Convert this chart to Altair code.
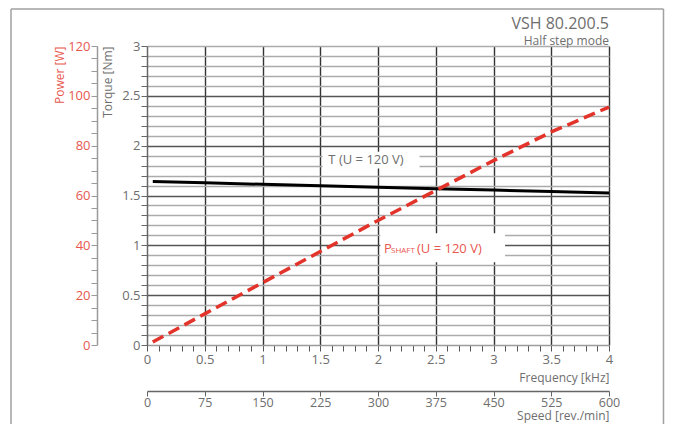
import altair as alt
import pandas as pd

# ---- data ----
freq_khz = [0.05, 0.5, 1.0, 1.5, 2.0, 2.5, 3.0, 3.5, 4.0]
torque_nm = [1.64, 1.627, 1.612, 1.598, 1.583, 1.568, 1.554, 1.540, 1.525]
power_w = [1.2, 12.5, 25.0, 37.5, 50.0, 62.0, 74.0, 85.5, 95.5]
speed_range = [0, 600]

freq_ticks = [round(i * 0.1, 1) for i in range(41)]
torque_ticks = [round(i * 0.1, 1) for i in range(31)]
power_ticks = list(range(0, 121, 5))
speed_ticks = list(range(0, 601, 75))

title_text = "VSH 80.200.5"
subtitle_text = "Half step mode"

GRAY_TXT = "#6e6e6e"
AXIS_GRAY = "#9a9a9a"
RED = "#e2342b"
RED_TXT = "#e8574f"
FONT = "Open Sans"

W, H = 462, 299

df = pd.DataFrame({"f": freq_khz, "T": torque_nm, "P": power_w})

half = "abs(datum.value*2 - round(datum.value*2)) < 0.001"
lab = f"({half}) ? format(datum.value, '.1~f') : ''"

xs = alt.Scale(domain=[0, 4], nice=False, zero=False)
ys = alt.Scale(domain=[0, 3], nice=False)
ps = alt.Scale(domain=[0, 120], nice=False)
ss = alt.Scale(domain=[0, 600], nice=False)

x_axis = alt.Axis(
    orient="bottom", values=freq_ticks, labelExpr=lab, grid=True,
    gridColor="#333333", gridWidth=1.4,
    gridOpacity={"condition": {"test": f"({half}) && datum.value > 0", "value": 1}, "value": 0},
    domainColor=AXIS_GRAY, domainWidth=1.5, tickColor="#555555", tickSize=6, tickWidth=1,
    labelFlush=False, labelOverlap=False, labelFontSize=13, labelColor=GRAY_TXT,
    labelPadding=2, title="Frequency [kHz]", titleAnchor="end", titleAlign="right",
    titleFontSize=12, titleFontWeight="normal", titleColor=GRAY_TXT, titlePadding=6,
)

y_axis = alt.Axis(
    orient="left", values=torque_ticks, labelExpr=lab, grid=True,
    gridColor={"condition": {"test": f"({half}) && datum.value < 2.9", "value": "#555555"}, "value": "#ababab"},
    gridWidth=1.4,
    gridOpacity={"condition": {"test": "datum.value < 0.01", "value": 0}, "value": 1},
    domainColor="#666666", domainWidth=1.5, tickColor="#666666", tickSize=6, tickWidth=1,
    labelFlush=False, labelOverlap=False, labelFontSize=13, labelColor=GRAY_TXT,
    labelPadding=1, title="Torque [Nm]", titleX=-40, titleY=0, titleAngle=270,
    titleAlign="right", titleBaseline="middle",
    titleFontSize=12, titleFontWeight="normal", titleColor=GRAY_TXT,
)

p_axis = alt.Axis(
    orient="left", offset=50, values=power_ticks,
    labelExpr="datum.value % 20 == 0 ? datum.label : ''", grid=False,
    domainColor=AXIS_GRAY, domainWidth=1.5, tickColor=AXIS_GRAY, tickSize=6, tickWidth=1,
    labelFlush=False, labelOverlap=False, labelFontSize=13, labelColor=RED_TXT,
    labelPadding=1, title="Power [W]", titleX=-38, titleY=0, titleAngle=270,
    titleAlign="right", titleBaseline="middle",
    titleFontSize=12, titleFontWeight="normal", titleColor=RED_TXT,
)

s_axis = alt.Axis(
    orient="bottom", offset=46, values=speed_ticks, grid=False,
    domainColor="#666666", domainWidth=1.5, tickColor="#666666", tickSize=5, tickWidth=1,
    labelFlush=False, labelOverlap=False, labelFontSize=12.5, labelColor=GRAY_TXT,
    labelPadding=0, title="Speed [rev./min]", titleAnchor="end", titleAlign="right",
    titleFontSize=12, titleFontWeight="normal", titleColor=GRAY_TXT, titlePadding=2,
)

# annotation boxes (white backgrounds behind the line labels)
box_df = pd.DataFrame({
    "x1": [1.52, 2.02], "x2": [2.36, 3.1],
    "y1": [1.77, 0.83], "y2": [1.94, 1.12],
})
boxes = alt.Chart(box_df).mark_rect(fill="white").encode(
    x=alt.X("x1:Q", scale=xs, axis=None), x2="x2:Q",
    y=alt.Y("y1:Q", scale=ys, axis=None), y2="y2:Q",
)

torque_line = alt.Chart(df).mark_line(color="black", strokeWidth=3).encode(
    x=alt.X("f:Q", scale=xs, axis=x_axis),
    y=alt.Y("T:Q", scale=ys, axis=y_axis),
)

power_line = alt.Chart(df).mark_line(
    color=RED, strokeWidth=3.5, strokeDash=[12, 6], strokeCap="butt"
).encode(
    x=alt.X("f:Q", scale=xs, axis=None),
    y=alt.Y("P:Q", scale=ps, axis=p_axis),
)

speed = alt.Chart(pd.DataFrame({"rpm": speed_range})).mark_point(opacity=0).encode(
    x=alt.X("rpm:Q", scale=ss, axis=s_axis),
)

t_label = alt.Chart(pd.DataFrame({"f": [1.896], "T": [1.856], "t": ["T (U = 120 V)"]})).mark_text(
    font=FONT, fontSize=13, color=GRAY_TXT, align="center", baseline="middle"
).encode(
    x=alt.X("f:Q", scale=xs, axis=None), y=alt.Y("T:Q", scale=ys, axis=None), text="t:N"
)

p_pos = pd.DataFrame({"f": [2.052], "T": [0.923]})
p_main = alt.Chart(p_pos).mark_text(
    font=FONT, fontSize=13, color=RED_TXT, align="left", baseline="alphabetic", text="P"
).encode(x=alt.X("f:Q", scale=xs, axis=None), y=alt.Y("T:Q", scale=ys, axis=None))
p_sub = alt.Chart(p_pos).mark_text(
    font=FONT, fontSize=8, color=RED_TXT, align="left", baseline="alphabetic", text="SHAFT", dx=7
).encode(x=alt.X("f:Q", scale=xs, axis=None), y=alt.Y("T:Q", scale=ys, axis=None))
p_rest = alt.Chart(p_pos).mark_text(
    font=FONT, fontSize=13, color=RED_TXT, align="left", baseline="alphabetic", text="(U = 120 V)", dx=33
).encode(x=alt.X("f:Q", scale=xs, axis=None), y=alt.Y("T:Q", scale=ys, axis=None))

one = pd.DataFrame({"a": [0]})
head = alt.Chart(one).mark_text(
    font=FONT, fontSize=16, color=GRAY_TXT, align="right", baseline="middle", text=title_text
).encode(x=alt.value(W), y=alt.value(-22))
subhead = alt.Chart(one).mark_text(
    font=FONT, fontSize=12, color=GRAY_TXT, align="right", baseline="middle", text=subtitle_text
).encode(x=alt.value(W), y=alt.value(-5))

# outer frame of the data sheet figure
frame_left = alt.Chart(one).mark_rule(color="#a0a0a0", strokeWidth=1.5).encode(
    x=alt.value(-136), y=alt.value(-37), y2=alt.value(380))
frame_right = alt.Chart(one).mark_rule(color="#a0a0a0", strokeWidth=1.5).encode(
    x=alt.value(516.5), y=alt.value(-37), y2=alt.value(380))
frame_top = alt.Chart(one).mark_rule(color="#a0a0a0", strokeWidth=1.5).encode(
    x=alt.value(-136), x2=alt.value(516.5), y=alt.value(-37))

chart = alt.layer(
    boxes, torque_line, power_line, speed, t_label, p_main, p_sub, p_rest,
    head, subhead, frame_left, frame_right, frame_top,
).resolve_scale(
    x="independent", y="independent"
).properties(
    width=W, height=H,
    autosize=alt.AutoSizeParams(type="none"),
    padding={"left": 139, "top": 38, "right": 56, "bottom": 79},
).configure_view(stroke=None).configure_axis(
    labelFont=FONT, titleFont=FONT
)

chart.save("out.html", embed_options={"renderer": "svg", "actions": False})
